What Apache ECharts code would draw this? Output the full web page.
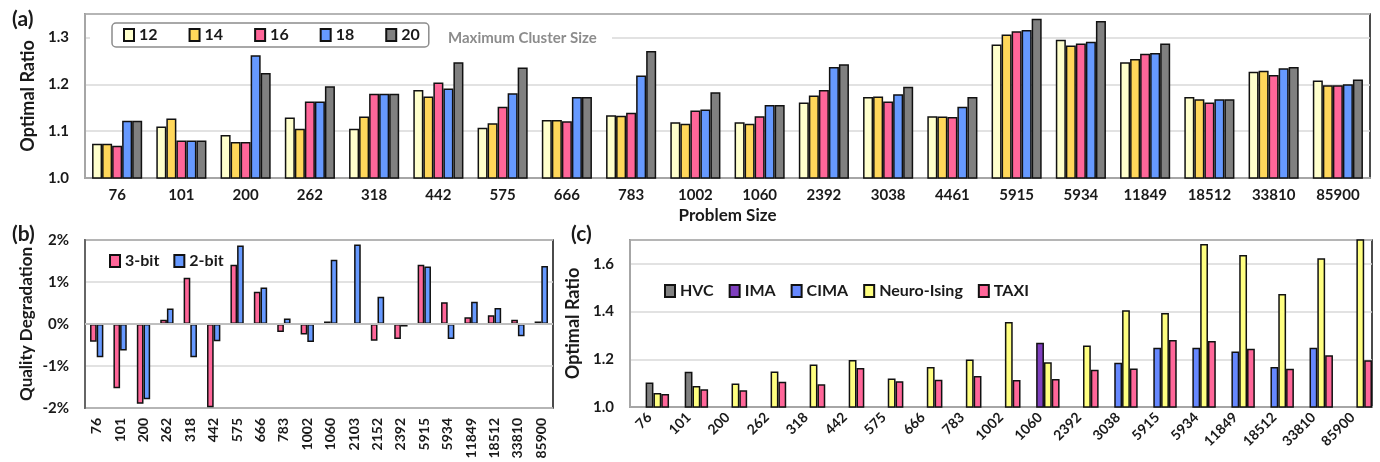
<!DOCTYPE html>
<html><head><meta charset="utf-8">
<script src="https://cdn.jsdelivr.net/npm/echarts@6/dist/echarts.min.js"></script>
<style>html,body{margin:0;padding:0;background:#fff}#c{width:1380px;height:462px}</style>
</head><body><div id="c"></div>
<script>
// ---------- Panel (a) ----------
const catA = ['76','101','200','262','318','442','575','666','783','1002','1060','2392','3038','4461','5915','5934','11849','18512','33810','85900'];
const sizeNames = ['12','14','16','18','20'];
const a12 = [1.073,1.110,1.092,1.129,1.105,1.188,1.107,1.124,1.134,1.119,1.119,1.161,1.173,1.132,1.285,1.295,1.247,1.173,1.227,1.208];
const a14 = [1.073,1.127,1.077,1.105,1.131,1.174,1.117,1.124,1.133,1.116,1.116,1.176,1.174,1.131,1.306,1.283,1.254,1.168,1.229,1.198];
const a16 = [1.069,1.080,1.077,1.163,1.180,1.204,1.152,1.121,1.139,1.144,1.132,1.188,1.163,1.130,1.313,1.287,1.265,1.161,1.220,1.198];
const a18 = [1.122,1.080,1.262,1.163,1.180,1.191,1.181,1.173,1.219,1.146,1.156,1.237,1.179,1.152,1.316,1.291,1.267,1.168,1.234,1.200];
const a20 = [1.122,1.080,1.224,1.196,1.180,1.247,1.236,1.173,1.271,1.183,1.156,1.243,1.195,1.173,1.340,1.335,1.287,1.168,1.237,1.210];
// ---------- Panel (b) ----------
const catB = ['76','101','200','262','318','442','575','666','783','1002','1060','2103','2152','2392','5915','5934','11849','18512','33810','85900'];
const b3bit = [-0.42,-1.53,-1.90,0.10,1.10,-1.98,1.41,0.77,-0.19,-0.25,0.06,0.01,-0.40,-0.36,1.41,0.52,0.16,0.21,0.10,0.06];
const b2bit = [-0.79,-0.63,-1.79,0.37,-0.79,-0.41,1.87,0.87,0.13,-0.43,1.53,1.89,0.65,-0.06,1.37,-0.36,0.53,0.38,-0.29,1.38];
// ---------- Panel (c) ----------
const catC = ['76','101','200','262','318','442','575','666','783','1002','1060','2392','3038','5915','5934','11849','18512','33810','85900'];
const cHVC   = [1.103,1.148,'-','-','-','-','-','-','-','-','-','-','-','-','-','-','-','-','-'];
const cIMA   = ['-','-','-','-','-','-','-','-','-','-',1.269,'-','-','-','-','-','-','-','-'];
const cCIMA  = ['-','-','-','-','-','-','-','-','-','-','-','-',1.185,1.248,1.248,1.233,1.168,1.248,'-'];
const cNeuro = [1.059,1.088,1.099,1.149,1.178,1.197,1.119,1.168,1.199,1.356,1.188,1.258,1.406,1.394,1.683,1.637,1.474,1.623,1.90];
const cTAXI  = [1.055,1.074,1.070,1.106,1.095,1.163,1.108,1.114,1.130,1.113,1.117,1.156,1.161,1.281,1.277,1.244,1.160,1.217,1.196];

const FONT = 'Lato';
const TXT = '#1a1a1a';
const BORDER = {borderColor:'#111', borderWidth:1.5};
const colA = ['#FFFFCC','#FFD75A','#FF6699','#6699FF','#808080'];

const chart = echarts.init(document.getElementById('c'), null, {renderer:'canvas'});
const lbl = (size) => ({fontFamily:FONT, fontWeight:'bold', fontSize:size, color:TXT});

function bar(name, data, color, xi, extra) {
  return Object.assign({
    type:'bar', name, data, xAxisIndex:xi, yAxisIndex:xi, clip:true,
    itemStyle: Object.assign({color}, BORDER),
    emphasis:{disabled:true}, animation:false
  }, extra||{});
}

const seriesA = [a12,a14,a16,a18,a20].map((d,i)=>bar(sizeNames[i], d, colA[i], 0,
  {barGap:'0%', barCategoryGap:'22%'}));
const seriesB = [
  bar('3-bit', b3bit, '#FF6699', 1, {barGap:'0%', barCategoryGap:'43%',
    markLine:{silent:true, symbol:'none', label:{show:false}, lineStyle:{color:'#bfbfbf', width:2, type:'solid'}, data:[{yAxis:0}], animation:false}}),
  bar('2-bit', b2bit, '#6699FF', 1, {barGap:'0%', barCategoryGap:'43%'})
];
const empty = catC.map(()=> '-');
const seriesC = [
  bar('_e1', empty, '#fff', 2, {barGap:'0%', barCategoryGap:'0%'}),
  bar('_e2', empty, '#fff', 2, {barGap:'0%', barCategoryGap:'0%'}),
  bar('HVC', cHVC, '#808080', 2, {stack:'base', barGap:'0%', barCategoryGap:'0%'}),
  bar('IMA', cIMA, '#7F3FBF', 2, {stack:'base', barGap:'0%', barCategoryGap:'0%'}),
  bar('CIMA', cCIMA, '#6688FF', 2, {stack:'base', barGap:'0%', barCategoryGap:'0%'}),
  bar('Neuro-Ising', cNeuro, '#FFFF80', 2, {barGap:'0%', barCategoryGap:'0%'}),
  bar('TAXI', cTAXI, '#FF6699', 2, {barGap:'0%', barCategoryGap:'0%'})
];

function yAx(gi, min, max, interval, fmt, name, nameGap, leftColor, nameSize) {
  return {
    type:'value', gridIndex:gi, min, max, interval,
    name, nameLocation:'middle', nameGap, nameTextStyle:lbl(nameSize),
    axisLine:{show:true, lineStyle:{color:leftColor, width:2}},
    axisTick:{show:false},
    axisLabel:Object.assign(lbl(15), {margin:16, formatter:fmt, showMaxLabel: gi===1}),
    splitLine:{show:true, lineStyle:{color:'#d9d9d9', width:1.5}}
  };
}

const option = {
  backgroundColor:'#fff',
  animation:false,
  title:[
    {text:'(a)', left:7, top:4, textStyle:lbl(21)},
    {text:'(b)', left:7, top:219, textStyle:lbl(21)},
    {text:'(c)', left:566, top:219, textStyle:lbl(21)},
    {text:'Maximum Cluster Size', left:443, top:26, textStyle:{fontFamily:FONT, fontWeight:'bold', fontSize:15, color:'#8c8c8c'}}
  ],
  graphic:[{type:'rect', shape:{x:90, y:30, width:522, height:15}, style:{fill:'#fff'}, z:1, silent:true}],
  legend:[
    {data:sizeNames, left:112, top:23, orient:'horizontal', icon:'rect', itemWidth:10, itemHeight:12, itemGap:31,
     padding:[4,9,4,11], borderColor:'#8c8c8c', borderWidth:1.5, borderRadius:4, backgroundColor:'#fff',
     textStyle:lbl(16), selectedMode:false, z:5},
    {data:['3-bit','2-bit'], left:104, top:248, icon:'rect', itemWidth:10, itemHeight:12, itemGap:14,
     textStyle:lbl(16), selectedMode:false},
    {data:['HVC','IMA','CIMA','Neuro-Ising','TAXI'], left:659, top:278, icon:'rect', itemWidth:10, itemHeight:12, itemGap:15,
     textStyle:lbl(16), selectedMode:false}
  ],
  grid:[
    {left:85, top:14, width:1285, height:164, show:true, borderColor:'#111', borderWidth:1.5},
    {left:85, top:240, width:468, height:168, show:true, borderColor:'#111', borderWidth:1.5},
    {left:630, top:240, width:742, height:167, show:true, borderColor:'#111', borderWidth:1.5}
  ],
  xAxis:[
    {type:'category', gridIndex:0, data:catA, name:'Problem Size', nameLocation:'middle', nameGap:29, nameTextStyle:lbl(17),
     axisLine:{show:true, lineStyle:{color:'#a6a6a6', width:2}}, axisTick:{show:false},
     axisLabel:Object.assign(lbl(15), {margin:10, interval:0})},
    {type:'category', gridIndex:1, data:catB,
     axisLine:{show:false, onZero:false}, axisTick:{show:false},
     axisLabel:Object.assign(lbl(14), {margin:10, interval:0, rotate:90})},
    {type:'category', gridIndex:2, data:catC,
     axisLine:{show:true, lineStyle:{color:'#a6a6a6', width:2}}, axisTick:{show:false},
     axisLabel:Object.assign(lbl(14), {margin:8, interval:0, rotate:45})}
  ],
  yAxis:[
    yAx(0, 1.0, 1.35, 0.1, v=>v.toFixed(1), 'Optimal Ratio', 44, '#a6a6a6', 18),
    yAx(1, -2, 2, 1, v=>Math.round(v)+'%', 'Quality Degradation', 50, '#666', 17),
    yAx(2, 1.0, 1.7, 0.2, v=>v.toFixed(1), 'Optimal Ratio', 46, '#a6a6a6', 18)
  ],
  series:[...seriesA, ...seriesB, ...seriesC]
};
chart.setOption(option);
</script></body></html>
